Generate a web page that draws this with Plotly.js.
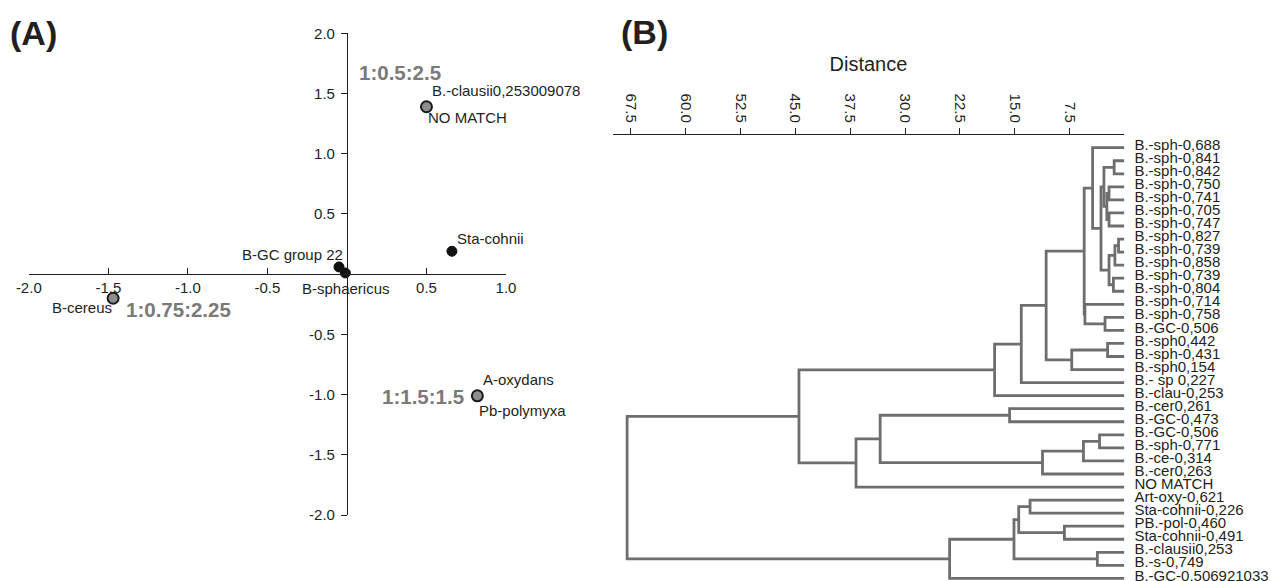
<!DOCTYPE html>
<html><head><meta charset="utf-8">
<script src="https://cdn.plot.ly/plotly-3.0.1.min.js"></script>
<style>html,body{margin:0;padding:0;background:#fff}#chart{width:1271px;height:581px}</style>
</head><body><div id="chart"></div>
<script>
// ---------- Panel A data (ordination plot) ----------
const ptX    = [0.50, 0.66, -0.05, -0.01, -1.47, 0.82];
const ptY    = [1.39, 0.19,  0.06,  0.01, -0.20, -1.01];
const ptKind = ['grey','black','black','black','grey','grey'];

const pointLabels   = ['B.-clausii0,253009078','NO MATCH','Sta-cohnii','B-GC group 22','B-sphaericus','B-cereus','A-oxydans','Pb-polymyxa'];
const pointLabelPt  = [0, 0, 1, 2, 3, 4, 5, 5];
const ratioLabels   = ['1:0.5:2.5','1:0.75:2.25','1:1.5:1.5'];
const ratioLabelPt  = [0, 4, 5];

const xTickValsA = [-2, -1.5, -1, -0.5, 0.5, 1];
const yTickValsA = [2, 1.5, 1, 0.5, -0.5, -1, -1.5, -2];

// ---------- Panel B data (dendrogram) ----------
const leafLabels = ['B.-sph-0,688','B.-sph-0,841','B.-sph-0,842','B.-sph-0,750','B.-sph-0,741','B.-sph-0,705',
  'B.-sph-0,747','B.-sph-0,827','B.-sph-0,739','B.-sph-0,858','B.-sph-0,739','B.-sph-0,804','B.-sph-0,714',
  'B.-sph-0,758','B.-GC-0,506','B.-sph0,442','B.-sph-0,431','B.-sph0,154','B.- sp 0,227','B.-clau-0,253',
  'B.-cer0,261','B.-GC-0,473','B.-GC-0,506','B.-sph-0,771','B.-ce-0,314','B.-cer0,263','NO MATCH',
  'Art-oxy-0,621','Sta-cohnii-0,226','PB.-pol-0,460','Sta-cohnii-0,491','B.-clausii0,253','B.-s-0,749',
  'B.-GC-0,506921033'];
// merges: leaves are 0..33, merge i creates node 34+i
const mergeLeft   = [1, 3, 5, 35, 34, 7, 39, 10, 40, 38, 0, 13, 12, 44, 15, 48, 47, 50, 51, 20, 22, 54, 55, 53, 57, 52, 27, 29, 60, 31, 62, 64, 59];
const mergeRight  = [2, 4, 6, 36, 37, 8, 9, 11, 41, 42, 43, 14, 45, 46, 16, 17, 49, 18, 19, 21, 23, 24, 25, 56, 26, 58, 28, 30, 61, 32, 63, 33, 65];
const mergeHeight = [1.4, 2.1, 2.1, 2.4, 2.8, 0.8, 1.3, 1.5, 2.1, 3.2, 4.35, 2.65, 5.4, 5.5, 2.3, 7.2, 10.7, 14.1, 17.75,
  15.7, 3.4, 5.6, 11.2, 33.4, 36.7, 44.5, 12.9, 8.2, 14.45, 3.7, 15.1, 23.9, 68.0];
const distTickVals = [67.5, 60, 52.5, 45, 37.5, 30, 22.5, 15, 7.5];

// ---------- build ----------
const W = 1271, H = 581;
const FONT = 'Liberation Sans, Arial, sans-serif';
const INK = '#231f20';
const px = v => v / W, py = v => 1 - v / H;

// dendrogram segments
const nodeY = [], nodeH = [];
leafLabels.forEach((_, i) => { nodeY[i] = i; nodeH[i] = 0; });
const dX = [], dY = [];
mergeLeft.forEach((a, i) => {
  const b = mergeRight[i], h = mergeHeight[i], id = leafLabels.length + i;
  dX.push(nodeH[a], h, h, nodeH[b], null);
  dY.push(nodeY[a], nodeY[a], nodeY[b], nodeY[b], null);
  nodeY[id] = (nodeY[a] + nodeY[b]) / 2; nodeH[id] = h;
});

const idx = k => ptKind.map((v, i) => v === k ? i : -1).filter(i => i >= 0);
const gi = idx('grey'), bi = idx('black');

const traces = [
  {x: gi.map(i => ptX[i]), y: gi.map(i => ptY[i]), type: 'scatter', mode: 'markers', xaxis: 'x', yaxis: 'y',
   marker: {size: 11, color: '#8e8e8e', line: {color: '#1a1a1a', width: 2}}, hoverinfo: 'skip', cliponaxis: false},
  {x: bi.map(i => ptX[i]), y: bi.map(i => ptY[i]), type: 'scatter', mode: 'markers', xaxis: 'x', yaxis: 'y',
   marker: {size: 10, color: '#111111', line: {color: '#111', width: 1}}, hoverinfo: 'skip', cliponaxis: false},
  {x: dX, y: dY, type: 'scatter', mode: 'lines', xaxis: 'x2', yaxis: 'y2',
   line: {color: '#6d6e71', width: 2.8}, hoverinfo: 'skip', cliponaxis: false},
  // invisible carrier so the leaf-label axis is drawn
  {x: leafLabels.map(() => 0), y: leafLabels.map((_, i) => i), type: 'scatter', mode: 'markers', xaxis: 'x2', yaxis: 'y3',
   marker: {size: 1, opacity: 0}, hoverinfo: 'skip'}
];

// Panel A geometry
const xDomA = [px(28.8), px(506)], yDomA = [py(515), py(33.3)];
const xRangeA = [-2, 1], yRangeA = [-2, 2];
const xZeroPos = yDomA[0] + (0 - yRangeA[0]) / (yRangeA[1] - yRangeA[0]) * (yDomA[1] - yDomA[0]);
const yZeroPos = xDomA[0] + (0 - xRangeA[0]) / (xRangeA[1] - xRangeA[0]) * (xDomA[1] - xDomA[0]);

// Panel B geometry: leaf rows, labels sit slightly above their branch lines
const rangeB = [33.2, -0.973];
const labelLift = 0.24; // in leaf rows
const rangeBLabels = [rangeB[0] + labelLift, rangeB[1] + labelLift];

// label placement styles (pixel offsets)
const labelStyle = [
  {xa: 'left', dx: 4, dy: 16}, {xa: 'left', dx: 0, dy: -11}, {xa: 'left', dx: 3.5, dy: 13},
  {xa: 'right', dx: 6, dy: 12.7}, {xa: 'center', dx: 1, dy: -16}, {xa: 'right', dx: 1, dy: -9},
  {xa: 'left', dx: 3.5, dy: 16}, {xa: 'left', dx: 0, dy: -14.7}
];
const ratioStyle = [{xa: 'left', dx: -69, dy: 34.4}, {xa: 'left', dx: 11, dy: -11.7}, {xa: 'right', dx: -11, dy: -0.7}];

const annotations = [];
pointLabels.forEach((t, i) => {
  const p = pointLabelPt[i], s = labelStyle[i];
  annotations.push({text: t, x: ptX[p], y: ptY[p], xref: 'x', yref: 'y', xanchor: s.xa, yanchor: 'middle',
    xshift: s.dx, yshift: s.dy, showarrow: false, font: {family: FONT, size: 15, color: INK}});
});
ratioLabels.forEach((t, i) => {
  const p = ratioLabelPt[i], s = ratioStyle[i];
  annotations.push({text: '<b>' + t + '</b>', x: ptX[p], y: ptY[p], xref: 'x', yref: 'y', xanchor: s.xa, yanchor: 'middle',
    xshift: s.dx, yshift: s.dy, showarrow: false, font: {family: FONT, size: 20.5, color: '#7a7a7a'}});
});
annotations.push({text: '<b>(A)</b>', x: px(8), y: py(33), xref: 'paper', yref: 'paper', xanchor: 'left', yanchor: 'middle',
  showarrow: false, font: {family: FONT, size: 34, color: INK}});
annotations.push({text: '<b>(B)</b>', x: px(619), y: py(32), xref: 'paper', yref: 'paper', xanchor: 'left', yanchor: 'middle',
  showarrow: false, font: {family: FONT, size: 34, color: INK}});

const layout = {
  width: W, height: H, margin: {l: 0, r: 0, t: 0, b: 0}, paper_bgcolor: '#fff', plot_bgcolor: 'rgba(0,0,0,0)',
  showlegend: false, font: {family: FONT, size: 15, color: INK},
  xaxis: {domain: xDomA, range: xRangeA, anchor: 'free', position: xZeroPos, side: 'bottom',
    tickmode: 'array', tickvals: xTickValsA, ticktext: xTickValsA.map(v => v.toFixed(1)),
    ticks: 'inside', ticklen: 6, tickcolor: INK, showline: true, linecolor: INK, linewidth: 1,
    showgrid: false, zeroline: false, automargin: false, tickfont: {size: 15}, fixedrange: true},
  yaxis: {domain: yDomA, range: yRangeA, anchor: 'free', position: yZeroPos, side: 'left',
    tickmode: 'array', tickvals: yTickValsA, ticktext: yTickValsA.map(v => v.toFixed(1)),
    ticks: 'outside', ticklen: 6, tickcolor: INK, showline: true, linecolor: INK, linewidth: 1, ticklabelstandoff: 3,
    showgrid: false, zeroline: false, automargin: false, tickfont: {size: 15}, fixedrange: true},
  xaxis2: {domain: [px(612.5), px(1124.4)], range: [70, 0], anchor: 'y2', side: 'top',
    tickmode: 'array', tickvals: distTickVals, ticktext: distTickVals.map(v => v.toFixed(1)), tickangle: 90,
    ticks: 'outside', ticklen: 6, tickcolor: INK, showline: true, linecolor: INK, linewidth: 1,
    showgrid: false, zeroline: false, automargin: false, tickfont: {size: 15},
    title: {text: 'Distance', font: {size: 20, color: INK}, standoff: 16}},
  yaxis2: {domain: [0, py(135)], range: rangeB, anchor: 'x2', side: 'right',
    showticklabels: false, ticks: '', showline: false,
    showgrid: false, zeroline: false, automargin: false},
  yaxis3: {domain: [0, py(135)], range: rangeBLabels, anchor: 'x2', overlaying: 'y2', side: 'right',
    tickmode: 'array', tickvals: leafLabels.map((_, i) => i), ticktext: leafLabels,
    ticks: 'outside', ticklen: 6, tickcolor: 'rgba(0,0,0,0)', showline: false, ticklabeloverflow: 'allow',
    showgrid: false, zeroline: false, automargin: false, tickfont: {size: 15}},
  annotations: annotations
};

Plotly.newPlot('chart', traces, layout, {displayModeBar: false, staticPlot: true});
</script>
</body></html>
